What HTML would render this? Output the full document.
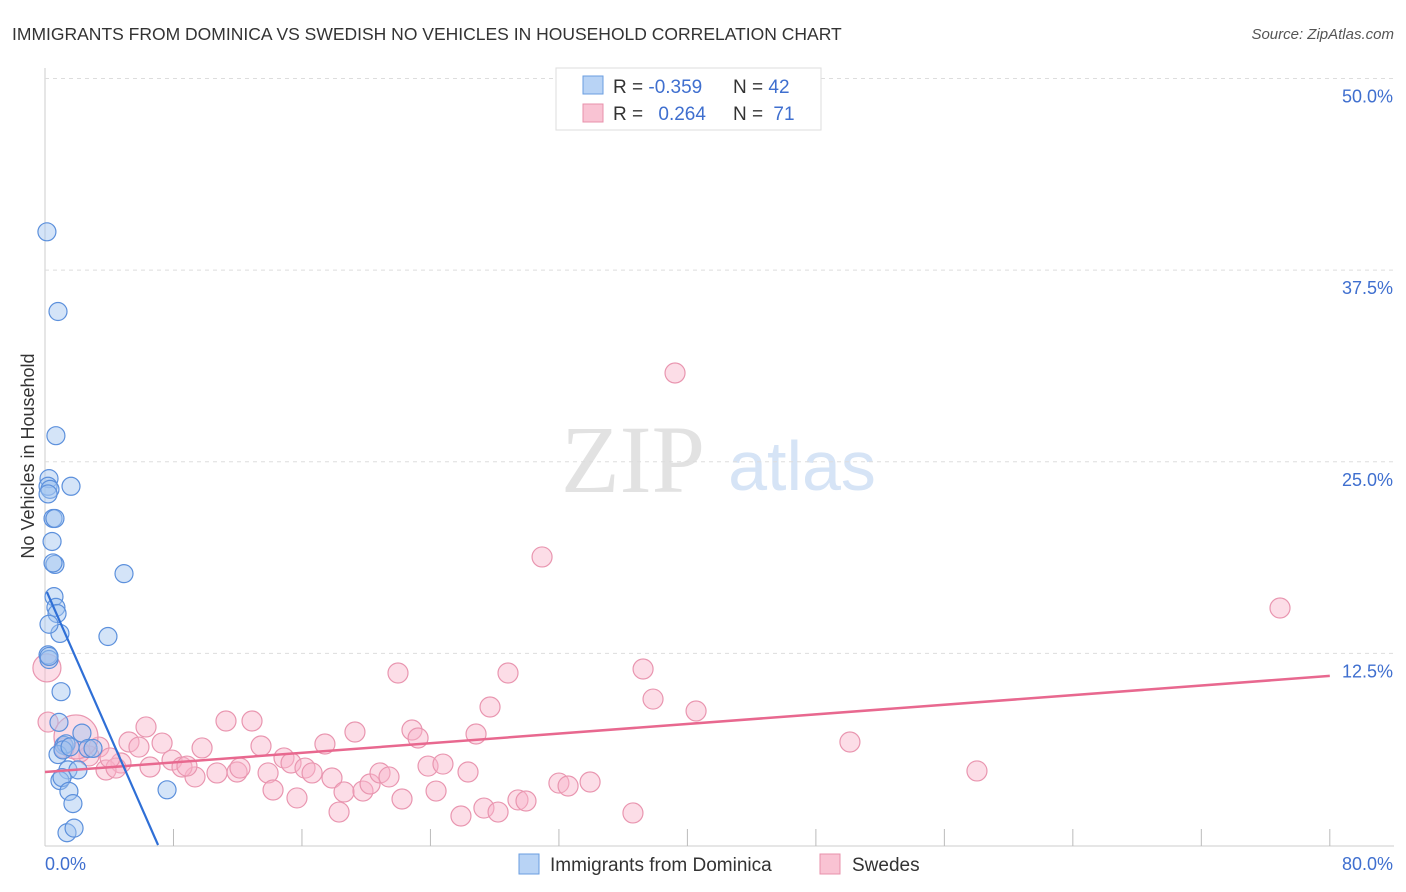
<!DOCTYPE html>
<html><head><meta charset="utf-8"><style>
body{margin:0;background:#fff;font-family:"Liberation Sans",sans-serif}
svg{display:block}
</style></head><body>
<svg id="chart" width="1406" height="892">
<text x="12" y="40" font-size="17.5" fill="#333">IMMIGRANTS FROM DOMINICA VS SWEDISH NO VEHICLES IN HOUSEHOLD CORRELATION CHART</text>
<text x="1394" y="39" font-size="15" fill="#555" font-style="italic" text-anchor="end">Source: ZipAtlas.com</text>
<g>
<text x="633" y="492" font-size="96" fill="#e2e2e2" font-family="Liberation Serif,serif" text-anchor="middle">ZIP</text>
<text x="802" y="490" font-size="70" fill="#d6e4f6" text-anchor="middle">atlas</text>
</g>
<g id="grid"></g>
<g id="marks"></g>
<text transform="translate(34,456) rotate(-90)" font-size="18" fill="#333" text-anchor="middle">No Vehicles in Household</text>
<g>
<rect x="556" y="68" width="265" height="62" fill="#fff" stroke="#ddd"/>
<rect x="583" y="76" width="20" height="18" fill="#b8d3f5" stroke="#6a9ee0"/>
<rect x="583" y="104" width="20" height="18" fill="#f9c3d3" stroke="#e890ab"/>
<text x="613" y="93" font-size="19" fill="#333">R = <tspan fill="#3f6fcf">-0.359</tspan></text>
<text x="733" y="93" font-size="19" fill="#333">N = <tspan fill="#3f6fcf">42</tspan></text>
<text x="613" y="120" font-size="19" fill="#333">R = <tspan fill="#3f6fcf" dx="10">0.264</tspan></text>
<text x="733" y="120" font-size="19" fill="#333">N = <tspan fill="#3f6fcf" dx="5">71</tspan></text>
</g>
<g>
<rect x="519" y="854" width="20" height="20" fill="#b8d3f5" stroke="#6a9ee0"/>
<text x="550" y="871" font-size="19" fill="#333">Immigrants from Dominica</text>
<rect x="820" y="854" width="20" height="20" fill="#f9c3d3" stroke="#e890ab"/>
<text x="852" y="871" font-size="19" fill="#333">Swedes</text>
</g>
</svg>
<script>
const blueX=[0.12,0.81,0.68,0.25,0.19,0.31,0.19,1.62,0.5,0.62,0.44,0.62,0.5,4.92,0.56,0.68,0.75,0.93,0.25,3.92,0.19,0.25,1.0,0.87,2.3,2.68,1.18,1.31,0.81,2.99,1.43,2.05,0.93,1.06,1.49,1.74,7.6,1.37,1.81,0.25,1.12,1.56];
const blueY=[40.0,34.8,26.7,23.9,23.4,23.2,22.9,23.4,21.3,21.3,19.8,18.3,18.4,17.7,16.2,15.5,15.1,13.8,14.4,13.6,12.4,12.1,10.0,8.0,7.3,6.3,6.5,6.6,5.9,6.3,4.9,4.9,4.2,4.4,3.5,2.7,3.6,0.8,1.1,12.3,6.2,6.4];
const pinkX=[39.23,30.95,76.9,21.98,28.83,37.24,27.71,37.86,40.54,50.12,58.03,11.27,12.89,6.29,19.3,22.85,23.23,26.84,5.23,5.85,7.29,3.36,9.78,7.91,14.88,17.43,15.32,16.19,16.63,13.89,13.45,11.96,10.71,12.14,9.34,8.53,8.84,6.54,4.73,3.8,4.42,2.74,2.18,1.18,17.87,18.62,19.8,20.24,20.86,21.42,23.85,24.78,26.34,22.23,24.35,15.69,14.2,18.31,25.9,27.33,28.21,29.45,29.95,32.0,32.57,33.94,36.61,0.19,0.12,1.93,4.05];
const pinkY=[30.79,18.79,15.46,11.22,11.22,11.48,9.0,9.52,8.74,6.72,4.83,8.09,8.09,7.7,7.37,7.5,6.98,7.24,6.72,6.39,6.65,6.39,6.33,5.54,5.68,6.59,5.35,5.02,4.7,4.7,6.46,4.76,4.7,5.02,4.44,5.09,5.15,5.09,5.35,4.89,5.02,5.81,6.07,6.33,4.37,3.46,3.52,3.98,4.7,4.44,5.15,5.28,4.76,3.0,3.52,3.07,3.59,2.15,1.89,2.41,2.15,2.94,2.87,4.04,3.85,4.11,2.09,8.02,11.55,7.05,5.68];
const pinkBig=[[68,14],[69,22]];
const blueTrend=[[0.12,16.5],[7.04,0]];
const pinkTrend=[[0,4.76],[80,11.03]];
const yTicks=[12.5,25,37.5,50];
const yTickLabels=["12.5%","25.0%","37.5%","50.0%"];
const xTicks=[8,16,24,32,40,48,56,64,72,80];
const NS="http://www.w3.org/2000/svg";
const sx=v=>45+v*16.06, sy=v=>845-v*15.33;
function mk(tag,attrs,parent){const e=document.createElementNS(NS,tag);for(const k in attrs)e.setAttribute(k,attrs[k]);parent.appendChild(e);return e;}
const grid=document.getElementById('grid'), marks=document.getElementById('marks');
let ax=mk('line',{x1:45,y1:68,x2:45,y2:846,stroke:'#ccc'},grid);


let bx=mk('line',{x1:45,y1:846,x2:1394,y2:846,stroke:'#ccc'},grid);


yTicks.forEach((t,i)=>{
 const g=mk('line',{x1:45,x2:1394,y1:sy(t),y2:sy(t),stroke:'#ddd','stroke-dasharray':'4 4'},grid);
 
 
 const l=mk('text',{x:1393,y:sy(t)+24,'font-size':18,fill:'#3f6fcf','text-anchor':'end'},grid);
 l.textContent=yTickLabels[i];
 
 
});
xTicks.forEach(t=>{
 const g=mk('line',{x1:sx(t),x2:sx(t),y1:829,y2:846,stroke:'#bbb'},grid);
 
 
});
let x0=mk('text',{x:45,y:870,'font-size':18,fill:'#3f6fcf'},grid);x0.textContent='0.0%';


let x1=mk('text',{x:1393,y:870,'font-size':18,fill:'#3f6fcf','text-anchor':'end'},grid);x1.textContent='80.0%';


pinkX.forEach((v,i)=>{
 let r=10;pinkBig.forEach(b=>{if(b[0]===i)r=b[1];});
 const c=mk('circle',{cx:sx(v),cy:sy(pinkY[i]),r:r,fill:'rgba(248,180,202,0.45)',stroke:'#e996b0','stroke-width':1.2},marks);
 
 
});
blueX.forEach((v,i)=>{
 const c=mk('circle',{cx:sx(v),cy:sy(blueY[i]),r:9,fill:'rgba(160,196,240,0.45)',stroke:'#5c90dc','stroke-width':1.2},marks);
 
 
});
let pl=mk('line',{x1:sx(pinkTrend[0][0]),y1:sy(pinkTrend[0][1]),x2:sx(pinkTrend[1][0]),y2:sy(pinkTrend[1][1]),stroke:'#e8688f','stroke-width':2.5},marks);


let bl=mk('line',{x1:sx(blueTrend[0][0]),y1:sy(blueTrend[0][1]),x2:sx(blueTrend[1][0]),y2:sy(blueTrend[1][1]),stroke:'#2f6fd6','stroke-width':2.2},marks);


</script>
</body></html>
